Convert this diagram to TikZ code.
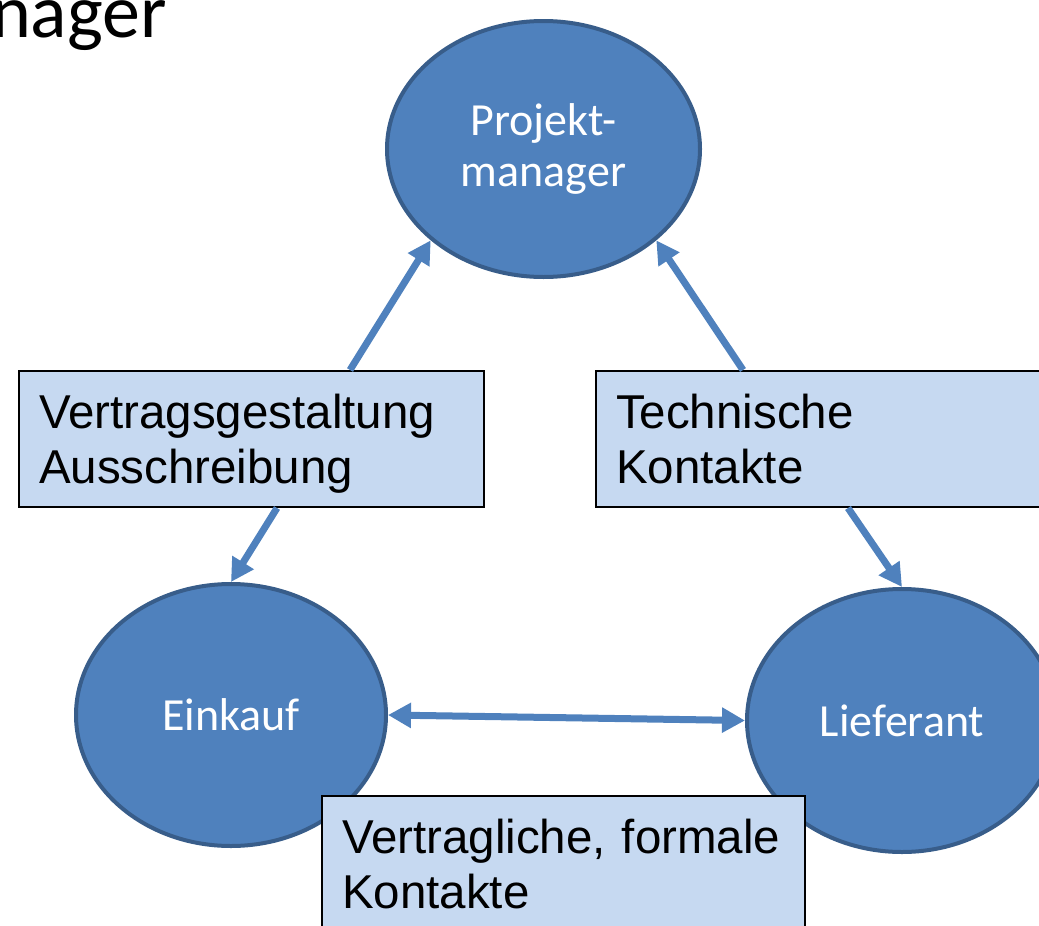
\documentclass[tikz,border=0pt]{standalone}
\usepackage{fontspec}
\setmainfont{Carlito}
\newfontfamily\arialfont{Liberation Sans}
\usetikzlibrary{shapes.geometric,arrows.meta}
\definecolor{nodeblue}{HTML}{4F81BD}
\definecolor{nodeedge}{HTML}{385D8A}
\definecolor{boxfill}{HTML}{C6D9F1}
\tikzset{bigtip/.tip={Triangle[length=23pt,width=24pt]}}

\begin{document}
\begin{tikzpicture}[x=1pt,y=-1pt,
  party/.style={ellipse, fill=nodeblue, draw=nodeedge, line width=4pt,
    inner sep=0pt, text=white, align=center,
    font=\fontsize{46}{51}\selectfont},
  topic/.style={rectangle, fill=boxfill, draw=black, line width=2pt,
    anchor=north west, inner xsep=20pt, inner ysep=22pt, align=left,
    text height=35pt, text depth=57pt,
    font=\arialfont\fontsize{47.5}{55}\selectfont},
  link/.style={draw=nodeblue, line width=7pt, -bigtip},
  duplex/.style={draw=nodeblue, line width=7pt, bigtip-bigtip},
]
\useasboundingbox (0,0) rectangle (1039,926);
\clip (0,0) rectangle (1039,926);

% heading, running in from the left edge
\node[anchor=base east, inner sep=0pt, font=\fontsize{76}{80}\selectfont]
  (ttl) at (167,37.5) {nager};

% the three parties
\node[party, minimum width=313pt, minimum height=256pt] (pm) at (543.5,149) {Projekt-\\manager};
\node[party, minimum width=310pt, minimum height=262pt] (ek) at (231,715) {Einkauf};
\node[party, minimum width=310pt, minimum height=263pt] (lf) at (902,720.5) {Lieferant};

% topics of the relations
\node[topic, text width=425pt] (vg) at (18,370) {Vertragsgestaltung\\Ausschreibung};
\node[topic, text width=420pt] (tk) at (595,370) {Technische\\Kontakte};
\node[topic, text width=443pt] (vf) at (321,795) {Vertragliche, formale\\Kontakte};

% relations
\draw[link] ([xshift=332pt]vg.north west) -- (pm.219);
\draw[link] ([xshift=259pt]vg.south west) -- (ek.90);
\draw[link] ([xshift=148pt]tk.north west) -- (pm.321);
\draw[link] ([xshift=253pt]tk.south west) -- (lf.90);
\draw[duplex] (ek.0) -- (lf.180);
\end{tikzpicture}
\end{document}
